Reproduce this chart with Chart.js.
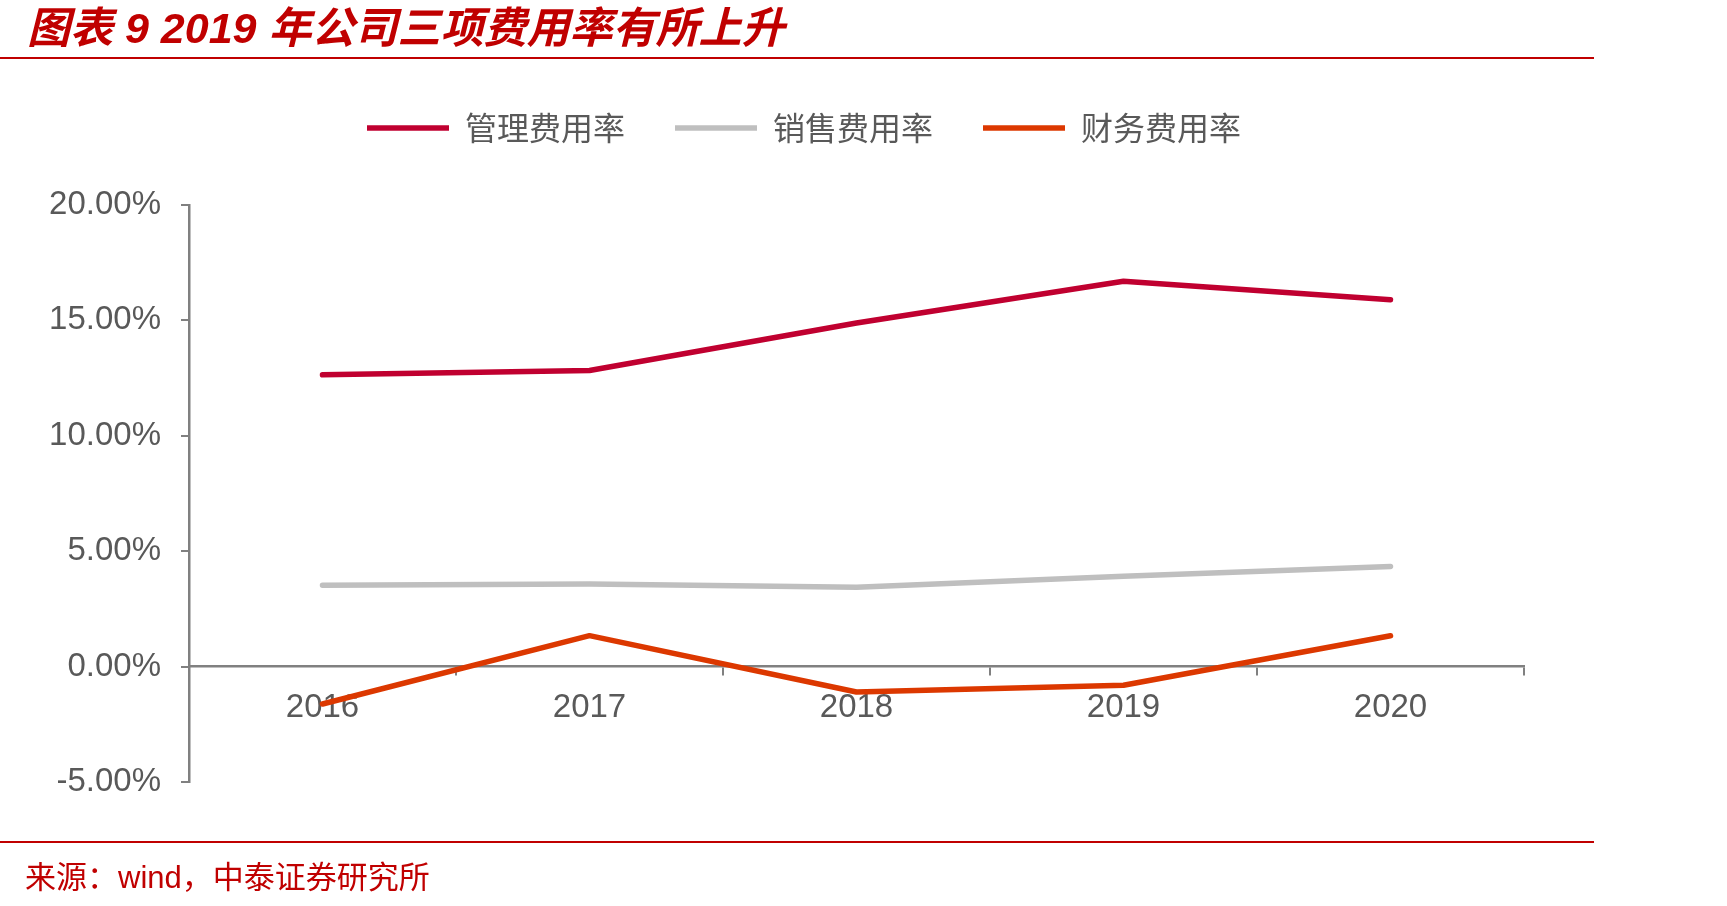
<!DOCTYPE html>
<html>
<head>
<meta charset="utf-8">
<script src="https://cdn.jsdelivr.net/npm/chart.js@4.4.1/dist/chart.umd.min.js"></script>
<style>
  html, body { margin: 0; padding: 0; background: #fff; }
  #wrap { position: relative; width: 1727px; height: 906px; overflow: hidden; }
  #chartBox { position: absolute; left: 0; top: 0; width: 1727px; height: 906px; }
  .title {
    position: absolute; left: 27px; top: 5px;
    font-family: "Liberation Sans", "Noto Sans CJK SC", sans-serif;
    font-size: 43px; line-height: 46px; font-weight: bold; font-style: italic;
    color: #C00000; white-space: nowrap;
  }
  .rule { position: absolute; left: 0; width: 1594px; height: 2px; background: #C00000; }
  .source {
    position: absolute; left: 25px; top: 860px;
    font-family: "Liberation Sans", "Noto Sans CJK SC", sans-serif;
    font-size: 31px; line-height: 36px; color: #C00000; white-space: nowrap;
  }
</style>
</head>
<body>
<div id="wrap">
  <div id="chartBox"><canvas id="feeChart"></canvas></div>
  <div class="title">图表 9 2019 年公司三项费用率有所上升</div>
  <div class="rule" style="top:57px"></div>
  <div class="rule" style="top:841px"></div>
  <div class="source">来源：wind，中泰证券研究所</div>
</div>
<script>
try {

    // data (percent)
    const years = ['2016', '2017', '2018', '2019', '2020'];
    const adminRate = [12.64, 12.83, 14.89, 16.70, 15.89];
    const salesRate = [3.53, 3.58, 3.44, 3.91, 4.34];
    const financeRate = [-1.62, 1.34, -1.10, -0.81, 1.34];
    const seriesNames = ['管理费用率', '销售费用率', '财务费用率'];
    const yTicks = [-5, 0, 5, 10, 15, 20];

    const axisGray = '#808080';
    const textGray = '#595959';

    function makeLine(label, data, color) {
      return {
        label: label,
        data: data,
        borderColor: color,
        backgroundColor: color,
        borderWidth: 5.5,
        borderCapStyle: 'round',
        borderJoinStyle: 'round',
        pointRadius: 0,
        pointHoverRadius: 0,
        tension: 0,
        fill: false
      };
    }

    // move the legend row to where the reference has it
    const legendPlace = {
      id: 'legendPlace',
      afterLayout(chart) {
        const lg = chart.legend;
        if (!lg) return;
        const pad = lg.options.labels.padding;
        const dy = 128 - 16 - pad - lg.top;
        const startX = ((lg.left + pad) + (lg.right - lg.lineWidths[0])) / 2;
        const dx = 367 - startX;
        lg.top += dy; lg.bottom += dy;
        lg.left += dx; lg.right += dx;
      }
    };

    const ctx = document.getElementById('feeChart').getContext('2d');
    const chart = new Chart(ctx, {
      type: 'line',
      data: {
        labels: years,
        datasets: [
          makeLine(seriesNames[0], adminRate, '#C00030'),
          makeLine(seriesNames[1], salesRate, '#BFBFBF'),
          makeLine(seriesNames[2], financeRate, '#DC3800')
        ]
      },
      plugins: [legendPlace],
      options: {
        responsive: true,
        maintainAspectRatio: false,
        animation: false,
        devicePixelRatio: 1,
        layout: {
          padding: { left: 0, right: 203, top: 62, bottom: 124 }
        },
        plugins: {
          tooltip: { enabled: false },
          legend: {
            position: 'top',
            labels: {
              usePointStyle: true,
              pointStyle: 'line',
              pointStyleWidth: 82,
              padding: 50,
              color: textGray,
              font: { family: '"Noto Sans CJK SC", sans-serif', size: 32 }
            }
          }
        },
        scales: {
          x: {
            type: 'category',
            position: { y: 0 },
            offset: true,
            grid: {
              offset: true,
              drawOnChartArea: false,
              drawTicks: true,
              tickLength: 8,
              color: axisGray,
              lineWidth: 2
            },
            border: { display: true, color: axisGray, width: 2.5 },
            ticks: {
              color: textGray,
              padding: 14,
              maxRotation: 0,
              font: { family: '"Liberation Sans", Arial, sans-serif', size: 33 }
            }
          },
          y: {
            min: -5,
            max: 20,
            afterBuildTicks: function (scale) {
              scale.ticks = yTicks.map(v => ({ value: v }));
            },
            afterFit: function (scale) {
              scale.width = 189;
              scale.paddingTop = 205;
            },
            grid: {
              drawOnChartArea: false,
              drawTicks: true,
              tickLength: 8,
              color: axisGray,
              lineWidth: 2
            },
            border: { display: true, color: axisGray, width: 2.5 },
            ticks: {
              color: textGray,
              padding: 20,
              font: { family: '"Liberation Sans", Arial, sans-serif', size: 33 },
              callback: function (v) { return Number(v).toFixed(2) + '%'; }
            }
          }
        }
      }
    });

} catch (e) {
    console.log(e);
}
</script>
</body>
</html>
